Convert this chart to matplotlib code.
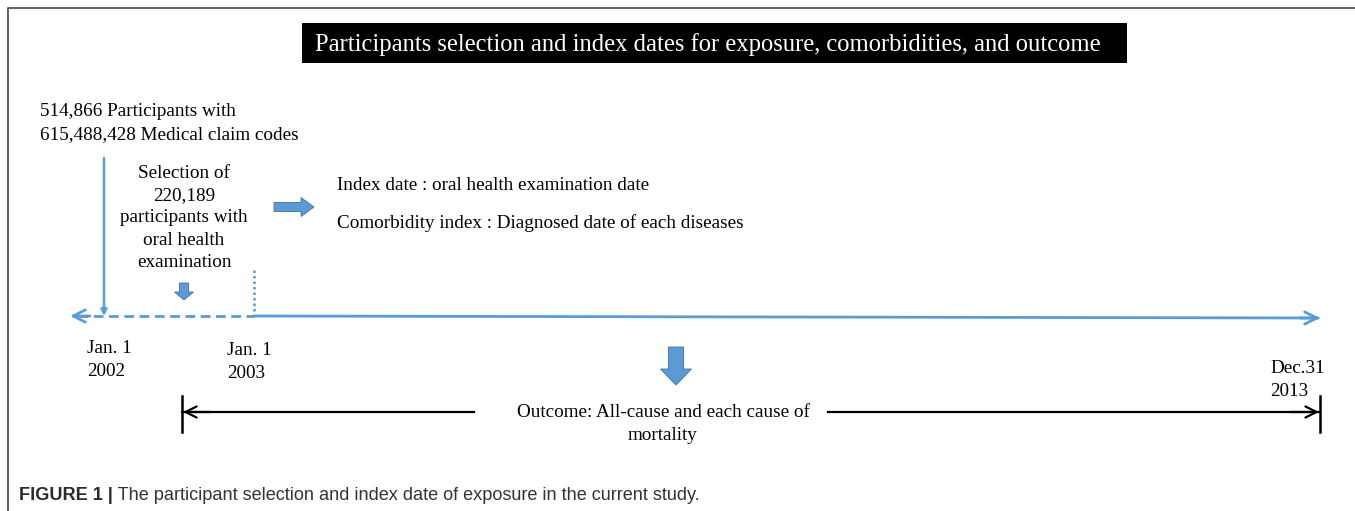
import matplotlib
matplotlib.use("Agg")
import matplotlib.pyplot as plt
from matplotlib.patches import Rectangle, FancyArrow

# texts shown in the figure
title_text = "Participants selection and index dates for exposure, comorbidities, and outcome"
source_text = "514,866 Participants with\n615,488,428 Medical claim codes"
selection_text = "Selection of\n220,189\nparticipants with\noral health\nexamination"
index_lines = ["Index date : oral health examination date",
               "Comorbidity index : Diagnosed date of each diseases"]
date_labels = ["Jan. 1\n2002", "Jan. 1\n2003", "Dec.31\n2013"]
outcome_text = "Outcome: All-cause and each cause of\nmortality"
caption_bold = "FIGURE 1 |"
caption_rest = " The participant selection and index date of exposure in the current study."

W, H = 1355, 511
blue = "#5B9BD5"
blue_edge = "#41719C"
serif = "Liberation Serif"
fs = 13.8
ls = 1.42

fig = plt.figure(figsize=(W / 100, H / 100), dpi=100)
ax = fig.add_axes([0, 0, 1, 1])
ax.set_xlim(0, W)
ax.set_ylim(H, 0)
ax.axis("off")

# outer frame (left and top edges)
ax.plot([8, 8, W], [H, 8, 8], color="#555555", lw=1.3)

# title box
ax.add_patch(Rectangle((302, 23), 825, 40, facecolor="black", edgecolor="none"))
ax.text(708, 45, title_text, color="white", family=serif, fontsize=17.7,
        ha="center", va="center")

# source population
ax.text(40, 123, source_text, family=serif, fontsize=fs, ha="left", va="center",
        linespacing=ls)
ax.annotate("", xy=(104, 316), xytext=(104, 158),
            arrowprops=dict(arrowstyle="-|>", color=blue, lw=1.8,
                            mutation_scale=9, shrinkA=0, shrinkB=0))

# selection step
ax.text(184, 218, selection_text, family=serif, fontsize=fs, ha="center",
        va="center", linespacing=ls)
ax.add_patch(FancyArrow(184, 283, 0, 17, width=9, head_width=19, head_length=8,
                        length_includes_head=True, facecolor=blue,
                        edgecolor=blue_edge, lw=0.6))

# right block arrow to index dates
ax.add_patch(FancyArrow(274, 207, 40, 0, width=9, head_width=19, head_length=13,
                        length_includes_head=True, facecolor=blue,
                        edgecolor=blue_edge, lw=0.6))
for i, line in enumerate(index_lines):
    ax.text(337, 186 + 37 * i, line, family=serif, fontsize=fs, ha="left",
            va="center")

# dotted marker at 2003
ax.plot([254, 254], [270, 313], color=blue, lw=1.8, ls=(0, (1, 1.2)))

# timeline: dashed part 2002-2003, solid part 2003-2013
ax.plot([78, 254], [316, 316], color=blue, lw=2, ls=(0, (3.5, 2)))
ax.plot([254, 1318], [316, 318], color=blue, lw=2)
ax.annotate("", xy=(70, 316), xytext=(90, 316),
            arrowprops=dict(arrowstyle="->", color=blue, lw=2,
                            mutation_scale=22, shrinkA=0, shrinkB=0))
ax.annotate("", xy=(1320, 318), xytext=(1300, 318),
            arrowprops=dict(arrowstyle="->", color=blue, lw=2,
                            mutation_scale=22, shrinkA=0, shrinkB=0))

# date labels
date_pos = [(87, 360), (227, 362), (1270, 380)]
for (x, y), lab in zip(date_pos, date_labels):
    ax.text(x, y, lab, family=serif, fontsize=fs, ha="left", va="center",
            linespacing=ls)

# outcome arrow
ax.add_patch(FancyArrow(676, 347, 0, 38, width=15, head_width=31, head_length=16,
                        length_includes_head=True, facecolor=blue,
                        edgecolor=blue_edge, lw=0.6))

# follow-up bracket
ax.plot([182, 182], [396, 432], color="black", lw=1.8)
ax.plot([1320, 1320], [396, 432], color="black", lw=1.8)
ax.plot([182, 474], [412, 412], color="black", lw=1.6)
ax.plot([828, 1320], [412, 412], color="black", lw=1.6)
ax.annotate("", xy=(183, 412), xytext=(210, 412),
            arrowprops=dict(arrowstyle="->", color="black", lw=1.6,
                            mutation_scale=20, shrinkA=0, shrinkB=0))
ax.annotate("", xy=(1319, 412), xytext=(1290, 412),
            arrowprops=dict(arrowstyle="->", color="black", lw=1.6,
                            mutation_scale=20, shrinkA=0, shrinkB=0))
ax.text(663, 424, outcome_text, family=serif, fontsize=fs, ha="center",
        va="center", linespacing=ls)

# caption
t = ax.text(19, 495, caption_bold, family="Liberation Sans", fontsize=13.1,
            fontweight="bold", color="#2b2b2b", ha="left", va="center")
fig.canvas.draw()
bb = t.get_window_extent()
x_end = ax.transData.inverted().transform((bb.x1, 0))[0]
ax.text(x_end, 495, caption_rest, family="Liberation Sans", fontsize=13.1,
        color="#333333", ha="left", va="center")

fig.savefig("out.png", dpi=100)
